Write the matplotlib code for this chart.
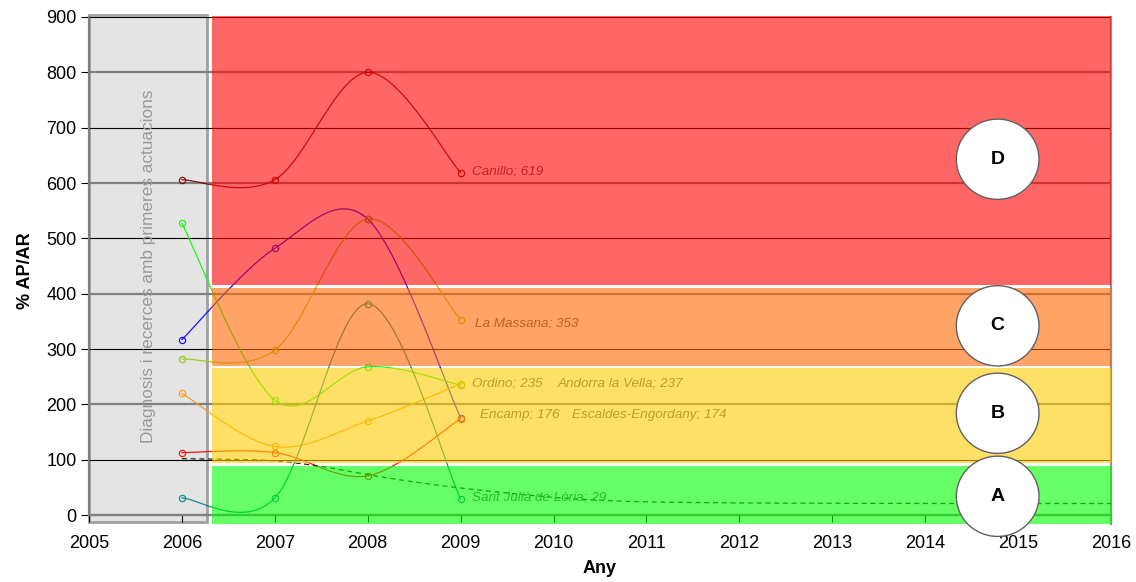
import numpy as np
import matplotlib
matplotlib.use("Agg")
import matplotlib.pyplot as plt
from matplotlib.patches import Rectangle, Ellipse

plt.rcParams['font.family'] = ['Liberation Sans', 'DejaVu Sans']

# ---------------- data ----------------
years = [2006, 2007, 2008, 2009]
names = ["Canillo", "Encamp", "Ordino", "La Massana",
         "Andorra la Vella", "Escaldes-Engordany", "Sant Julià de Lòria"]
canillo = [606, 606, 800, 619]
encamp = [317, 482, 535, 176]
ordino = [527, 208, 268, 235]
la_massana = [282, 298, 535, 353]
andorra = [220, 124, 170, 237]
escaldes = [113, 113, 71, 174]
sant_julia = [31, 31, 382, 29]
series = [canillo, encamp, ordino, la_massana, andorra, escaldes, sant_julia]
label_values = [619, 176, 235, 353, 237, 174, 29]
colors = ["#800000", "#0000FF", "#00FF00", "#99CC00", "#FF9900", "#FF0000", "#008080"]

trend_x = [2006.0, 2006.5, 2007, 2007.5, 2008, 2008.5, 2009, 2009.5, 2010, 2010.5,
           2011, 2012, 2013, 2014, 2015, 2016]
trend_y = [102, 101, 98, 88, 73, 60, 49, 40, 32, 27, 24, 22, 21.5, 21, 21, 21]

band_letters = ["A", "B", "C", "D"]
band_low = [-16, 94, 270, 415]
band_high = [88, 266, 411, 902]
band_colors = ["#00FF00", "#FFCC00", "#FF6600", "#FF0000"]

xticks = list(range(2005, 2017))
yticks = list(range(0, 1000, 100))


def smooth(xs, ys, n=40):
    P = np.column_stack([xs, ys]).astype(float)
    out = []
    for i in range(len(P) - 1):
        p0 = P[i - 1] if i > 0 else P[i]
        p1, p2 = P[i], P[i + 1]
        p3 = P[i + 2] if i + 2 < len(P) else P[i + 1]
        c1 = p1 + (p2 - p0) / 6.0
        c2 = p2 - (p3 - p1) / 6.0
        t = np.linspace(0, 1, n)[:, None]
        seg = (1 - t) ** 3 * p1 + 3 * (1 - t) ** 2 * t * c1 + 3 * (1 - t) * t ** 2 * c2 + t ** 3 * p2
        out.append(seg if i == 0 else seg[1:])
    return np.vstack(out)


fig = plt.figure(figsize=(11.36, 5.82), dpi=100)
ax = fig.add_axes([0.0783, 0.0997, 0.8997, 0.8711])
ax.set_xlim(2005, 2016)
ax.set_ylim(-16, 900)

# gray "diagnosis" band
ax.add_patch(Rectangle((2005, -13), 1.27, 916, facecolor="#E4E4E4",
                       edgecolor="#A0A0A0", lw=2, zorder=0.2, clip_on=False))
ax.text(2005.64, 450, "Diagnosis i recerces amb primeres actuacions", rotation=90,
        ha="center", va="center", fontsize=12.4, color="#999999", zorder=0.7)

# gridlines
for v in yticks:
    if v % 200 == 0:
        ax.axhline(v, color="#808080", lw=1.6, zorder=0.5)
    else:
        ax.axhline(v, color="black", lw=0.8, zorder=0.5)

# series
for ys, c in zip(series, colors):
    pts = smooth(years, ys)
    ax.plot(pts[:, 0], pts[:, 1], color=c, lw=0.9, alpha=0.9, zorder=1.5)
    ax.plot(years, ys, ls="none", marker="o", ms=4.5, mfc="none", mec=c, mew=0.9,
            alpha=0.9, zorder=1.6)

tp = smooth(trend_x, trend_y, n=20)
ax.plot(tp[:, 0], tp[:, 1], color="#202020", lw=0.9, ls=(0, (4, 3)), zorder=1.5)

# data labels (drawn under the coloured bands)
label_pos = {
    "Canillo": (2009.12, 620),
    "La Massana": (2009.15, 347),
    "Ordino": (2009.12, 237),
    "Andorra la Vella": (2010.04, 237),
    "Encamp": (2009.21, 181),
    "Escaldes-Engordany": (2010.2, 181),
    "Sant Julià de Lòria": (2009.12, 31),
}
for nm, val in zip(names, label_values):
    x, y = label_pos[nm]
    ax.text(x, y, f"{nm}; {val}", fontsize=9.7, style="italic", color="#5A5A5A",
            ha="left", va="center", zorder=1.7)

# coloured bands (semi-transparent on top)
for lo, hi, c in zip(band_low, band_high, band_colors):
    ax.add_patch(Rectangle((2006.32, lo), 2016 - 2006.32, hi - lo, facecolor=c,
                           edgecolor="none", alpha=0.6, zorder=3, clip_on=False))

# letter circles
circle_y = [34, 184, 342, 643]
for letter, cy in zip(band_letters, circle_y):
    ax.add_patch(Ellipse((2014.78, cy), 0.89, 145, facecolor="white", edgecolor="#606060",
                         lw=1.0, zorder=5, clip_on=False))
    ax.text(2014.78, cy, letter, fontsize=14, fontweight="bold", ha="center", va="center",
            zorder=6)

# axes styling
ax.set_axisbelow(True)
ax.spines["top"].set_visible(False)
ax.spines["bottom"].set_position(("data", 0))
ax.spines["bottom"].set_color("#808080")
ax.spines["bottom"].set_linewidth(1.6)
ax.spines["bottom"].set_zorder(0.6)
ax.spines["left"].set_color("#808080")
ax.spines["left"].set_linewidth(1.6)
ax.spines["left"].set_bounds(0, 900)
ax.spines["right"].set_color("#909090")
ax.spines["right"].set_linewidth(1.6)
ax.spines["right"].set_zorder(0.6)

ax.set_xticks(xticks)
ax.set_xticklabels([str(t) for t in xticks])
ax.set_yticks(yticks)
ax.tick_params(axis="x", direction="out", length=5, width=0.8, labelsize=13, pad=9)
ax.tick_params(axis="y", direction="out", length=6, width=0.8, labelsize=13, pad=3)

ax.set_ylabel("% AP/AR", fontsize=13, fontweight="bold", labelpad=9)
ax.set_xlabel("Any", fontsize=13, fontweight="bold", labelpad=6)

fig.savefig("out.png", dpi=100)
